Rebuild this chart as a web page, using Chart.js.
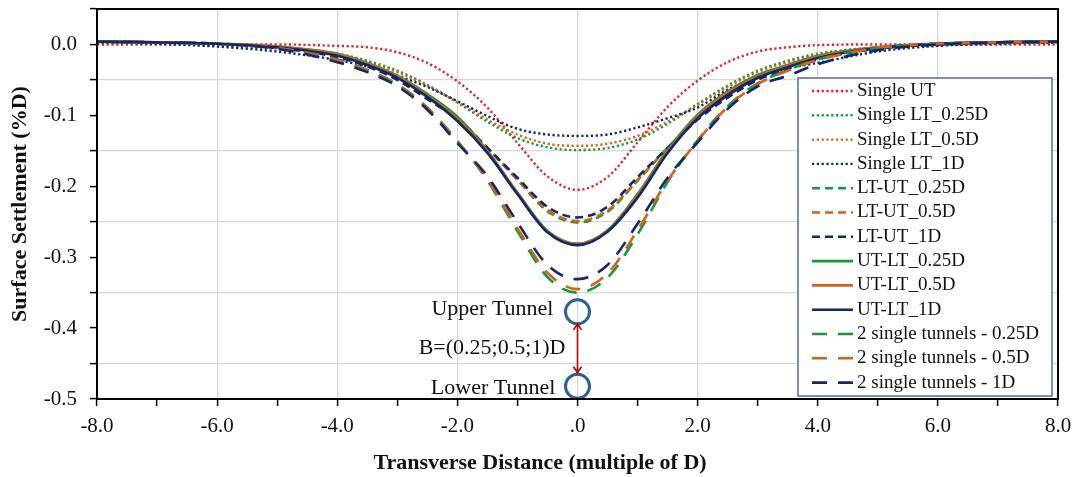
<!DOCTYPE html>
<html>
<head>
<meta charset="utf-8">
<script src="https://cdn.jsdelivr.net/npm/chart.js@4.4.1/dist/chart.umd.min.js"></script>
<style>
  body { margin: 0; background: #fff; }
  #wrap { width: 1076px; height: 477px; }
</style>
</head>
<body>
<div id="wrap"><canvas id="settlementChart" width="1076" height="477"></canvas></div>
<script>
const xPos = [-8, -7, -6, -5, -4, -3.5, -3, -2.5, -2, -1.5, -1, -0.5, 0, 0.5, 1, 1.5, 2, 2.5, 3, 3.5, 4, 5, 6, 7, 8];

const singleUT    = [0.000, 0.000, 0.000, 0.000, -0.002, -0.004, -0.011, -0.026, -0.052, -0.089, -0.139, -0.186, -0.205, -0.187, -0.138, -0.088, -0.051, -0.025, -0.010, -0.004, -0.001, 0.000, 0.000, 0.000, 0.000];
const singleLT025 = [0.003, 0.002, -0.001, -0.005, -0.013, -0.023, -0.037, -0.057, -0.082, -0.109, -0.132, -0.145, -0.149, -0.146, -0.134, -0.112, -0.084, -0.058, -0.037, -0.023, -0.013, -0.004, -0.001, 0.002, 0.003];
const singleLT05  = [0.003, 0.002, -0.002, -0.006, -0.015, -0.025, -0.039, -0.058, -0.081, -0.106, -0.127, -0.140, -0.143, -0.140, -0.129, -0.109, -0.085, -0.060, -0.039, -0.025, -0.015, -0.005, -0.001, 0.002, 0.003];
const singleLT1   = [0.003, 0.001, -0.003, -0.010, -0.022, -0.031, -0.044, -0.060, -0.080, -0.101, -0.119, -0.127, -0.129, -0.127, -0.117, -0.104, -0.089, -0.064, -0.046, -0.034, -0.026, -0.010, -0.002, 0.001, 0.003];
const ltut025     = [0.004, 0.003, 0.001, -0.004, -0.015, -0.028, -0.047, -0.073, -0.103, -0.146, -0.191, -0.235, -0.251, -0.236, -0.192, -0.146, -0.103, -0.072, -0.047, -0.031, -0.018, -0.005, 0.001, 0.003, 0.004];
const ltut05      = [0.004, 0.003, 0.001, -0.004, -0.015, -0.028, -0.047, -0.073, -0.103, -0.146, -0.190, -0.233, -0.249, -0.234, -0.191, -0.146, -0.103, -0.072, -0.047, -0.031, -0.018, -0.005, 0.001, 0.003, 0.004];
const ltut1       = [0.004, 0.003, 0.001, -0.005, -0.018, -0.031, -0.050, -0.077, -0.106, -0.146, -0.188, -0.229, -0.244, -0.229, -0.187, -0.146, -0.106, -0.075, -0.050, -0.034, -0.021, -0.006, 0.000, 0.003, 0.004];
const utlt025     = [0.004, 0.003, 0.001, -0.003, -0.013, -0.026, -0.044, -0.070, -0.102, -0.150, -0.209, -0.263, -0.281, -0.262, -0.211, -0.149, -0.099, -0.066, -0.043, -0.029, -0.016, -0.004, 0.001, 0.003, 0.004];
const utlt05      = [0.004, 0.003, 0.001, -0.003, -0.014, -0.027, -0.045, -0.072, -0.105, -0.151, -0.210, -0.264, -0.281, -0.263, -0.213, -0.151, -0.101, -0.068, -0.045, -0.030, -0.017, -0.004, 0.001, 0.003, 0.004];
const utlt1       = [0.004, 0.003, 0.001, -0.004, -0.016, -0.029, -0.047, -0.074, -0.108, -0.153, -0.211, -0.265, -0.283, -0.264, -0.216, -0.153, -0.104, -0.071, -0.047, -0.032, -0.019, -0.005, 0.001, 0.003, 0.004];
const two025      = [0.004, 0.003, 0.001, -0.005, -0.021, -0.036, -0.056, -0.089, -0.136, -0.192, -0.263, -0.328, -0.350, -0.329, -0.268, -0.194, -0.135, -0.087, -0.055, -0.036, -0.021, -0.005, 0.001, 0.003, 0.004];
const two05       = [0.004, 0.003, 0.001, -0.005, -0.022, -0.037, -0.057, -0.090, -0.137, -0.190, -0.259, -0.322, -0.345, -0.323, -0.262, -0.192, -0.136, -0.088, -0.056, -0.037, -0.022, -0.005, 0.001, 0.003, 0.004];
const two1        = [0.004, 0.003, 0.001, -0.006, -0.025, -0.039, -0.059, -0.092, -0.139, -0.186, -0.251, -0.311, -0.331, -0.311, -0.253, -0.188, -0.138, -0.091, -0.059, -0.044, -0.028, -0.008, 0.000, 0.003, 0.004];

// tunnel circles (upper, lower)
const tunnelX = [0, 0];
const tunnelY = [-0.377, -0.482];

const RED = '#e3231f', GREEN = '#18973b', ORANGE = '#d2621c', NAVY = '#12286b';
const DOT = [2.2, 2.6], SHORT = [8, 5], LONG = [15, 11];

const seriesDefs = [
  ['Single UT', singleUT, RED, DOT, 2.4],
  ['Single LT_0.25D', singleLT025, GREEN, DOT, 2.4],
  ['Single LT_0.5D', singleLT05, ORANGE, DOT, 2.4],
  ['Single LT_1D', singleLT1, NAVY, DOT, 2.4],
  ['LT-UT_0.25D', ltut025, GREEN, SHORT, 2.6],
  ['LT-UT_0.5D', ltut05, ORANGE, SHORT, 2.6],
  ['LT-UT_1D', ltut1, NAVY, SHORT, 2.6],
  ['UT-LT_0.25D', utlt025, GREEN, [], 2.6],
  ['UT-LT_0.5D', utlt05, ORANGE, [], 2.6],
  ['UT-LT_1D', utlt1, NAVY, [], 2.6],
  ['2 single tunnels - 0.25D', two025, GREEN, LONG, 2.6],
  ['2 single tunnels - 0.5D', two05, ORANGE, LONG, 2.6],
  ['2 single tunnels - 1D', two1, NAVY, LONG, 2.6]
];

const datasets = seriesDefs.map(([label, vals, color, dash, w], i) => ({
  label: label,
  data: xPos.map((x, k) => ({ x: x, y: vals[k] })),
  borderColor: color,
  backgroundColor: color,
  borderDash: dash,
  borderWidth: w,
  pointRadius: 0,
  fill: false,
  showLine: true,
  cubicInterpolationMode: 'monotone',
  order: -i
}));

datasets.push({
  label: 'tunnels',
  data: tunnelX.map((x, k) => ({ x: x, y: tunnelY[k] })),
  showLine: false,
  pointRadius: 12,
  pointBorderWidth: 3,
  pointBorderColor: '#2f5f93',
  pointBackgroundColor: 'rgba(0,0,0,0)',
  order: -20
});

const SERIF = '"Liberation Serif", "Times New Roman", serif';

const overlayPlugin = {
  id: 'overlay',
  afterDatasetsDraw(chart) {
    const { ctx, chartArea: ca, scales } = chart;
    const xs = scales.x, ys = scales.y;
    ctx.save();

    // plot frame
    ctx.strokeStyle = '#000';
    ctx.lineWidth = 2;
    ctx.setLineDash([]);
    ctx.strokeRect(ca.left, ca.top, ca.right - ca.left, ca.bottom - ca.top);

    // tunnel labels
    ctx.fillStyle = '#111';
    ctx.font = '22px ' + SERIF;
    ctx.textAlign = 'right';
    ctx.textBaseline = 'middle';
    ctx.fillText('Upper Tunnel', xs.getPixelForValue(-0.4), ys.getPixelForValue(-0.373));
    ctx.fillText('B=(0.25;0.5;1)D', xs.getPixelForValue(-0.2), ys.getPixelForValue(-0.428));
    ctx.fillText('Lower Tunnel', xs.getPixelForValue(-0.37), ys.getPixelForValue(-0.485));

    // double arrow between tunnels
    const ax = xs.getPixelForValue(0);
    const ay1 = ys.getPixelForValue(-0.394), ay2 = ys.getPixelForValue(-0.463);
    ctx.strokeStyle = '#c00000';
    ctx.lineWidth = 1.6;
    ctx.beginPath();
    ctx.moveTo(ax, ay1); ctx.lineTo(ax, ay2);
    ctx.moveTo(ax - 4, ay1 + 6); ctx.lineTo(ax, ay1); ctx.lineTo(ax + 4, ay1 + 6);
    ctx.moveTo(ax - 4, ay2 - 6); ctx.lineTo(ax, ay2); ctx.lineTo(ax + 4, ay2 - 6);
    ctx.stroke();

    // legend box
    const bx = 798, by = 78, bw = 254, bh = 318;
    ctx.fillStyle = '#fff';
    ctx.fillRect(bx, by, bw, bh);
    ctx.strokeStyle = '#4a6ea8';
    ctx.lineWidth = 1.5;
    ctx.strokeRect(bx, by, bw, bh);
    ctx.font = '19px ' + SERIF;
    ctx.textAlign = 'left';
    ctx.textBaseline = 'middle';
    chart.data.datasets.slice(0, seriesDefs.length).forEach((ds, i) => {
      const yy = 91 + i * 24.3;
      ctx.strokeStyle = ds.borderColor;
      ctx.lineWidth = ds.borderWidth;
      ctx.setLineDash(ds.borderDash);
      ctx.beginPath();
      ctx.moveTo(812, yy); ctx.lineTo(853, yy);
      ctx.stroke();
      ctx.setLineDash([]);
      ctx.fillStyle = '#111';
      ctx.fillText(ds.label, 857, yy);
    });

    // x axis title
    ctx.font = 'bold 22px ' + SERIF;
    ctx.textAlign = 'center';
    ctx.fillStyle = '#111';
    ctx.fillText('Transverse Distance (multiple of D)', 540, 463);
    ctx.restore();
  }
};

new Chart(document.getElementById('settlementChart'), {
  type: 'scatter',
  data: { datasets: datasets },
  options: {
    responsive: false,
    animation: false,
    devicePixelRatio: 1,
    layout: { autoPadding: false, padding: { left: 0, right: 18, top: 9, bottom: 0 } },
    plugins: { legend: { display: false }, tooltip: { enabled: false } },
    scales: {
      x: {
        type: 'linear',
        min: -8, max: 8,
        afterFit: s => { s.height = 78; s.paddingLeft = 0; s.paddingRight = 0; },
        ticks: {
          stepSize: 1, autoSkip: false, maxRotation: 0, padding: 8,
          color: '#111',
          font: { family: SERIF, size: 21 },
          callback: v => (Math.abs(v) % 2 === 1 ? '' : (v === 0 ? '.0' : v.toFixed(1)))
        },
        grid: {
          color: c => (Math.abs(c.tick.value) % 2 === 1 ? 'rgba(0,0,0,0)' : '#d6d6d6'),
          tickColor: '#000', tickLength: 7, lineWidth: 1.2, tickWidth: 1.5
        },
        border: { color: '#000', width: 2 }
      },
      y: {
        type: 'linear',
        min: -0.5, max: 0.05,
        afterFit: s => { s.width = 97; s.paddingTop = 0; s.paddingBottom = 0; },
        ticks: {
          stepSize: 0.05, autoSkip: false, padding: 13,
          color: '#111',
          font: { family: SERIF, size: 21 },
          callback: v => (Math.round(Math.abs(v) * 100) % 10 !== 0 ? '' : (Math.abs(v) < 1e-9 ? '0.0' : v.toFixed(1)))
        },
        grid: {
          color: c => (Math.round(Math.abs(c.tick.value) * 100) % 10 === 5 ? '#d6d6d6' : 'rgba(0,0,0,0)'),
          tickColor: '#000', tickLength: 7, lineWidth: 1.2, tickWidth: 1.5
        },
        border: { color: '#000', width: 2 },
        title: {
          display: true,
          text: 'Surface Settlement (%D)',
          color: '#111',
          font: { family: SERIF, size: 22, weight: 'bold' },
          padding: { top: 7, bottom: 0 }
        }
      }
    }
  },
  plugins: [overlayPlugin]
});
</script>
</body>
</html>
